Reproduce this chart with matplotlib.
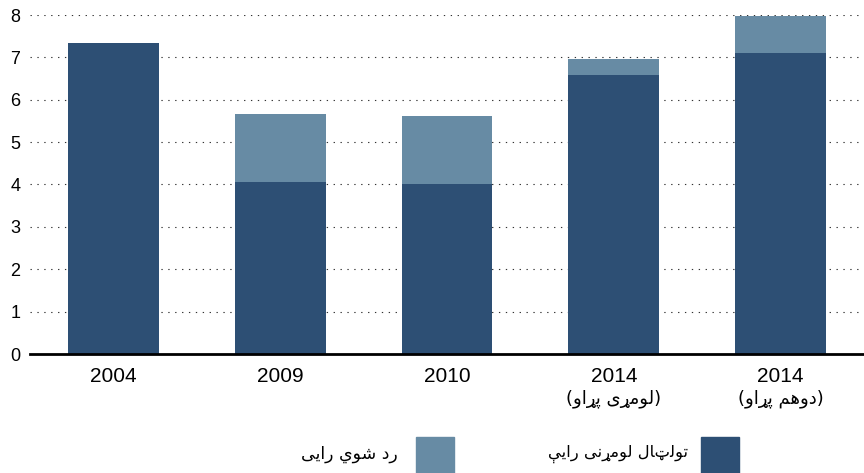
import matplotlib
matplotlib.use("Agg")
import matplotlib.pyplot as plt
from matplotlib.patches import Rectangle

# --- data (millions of votes) ---
years = ["2004", "2009", "2010", "2014", "2014"]
rounds = ["", "", "", "(لومړی پړاو)", "(دوهم پړاو)"]
valid_votes = [7.35, 4.06, 4.01, 6.59, 7.10]
rejected_votes = [0.0, 1.60, 1.61, 0.37, 0.88]
y_ticks = [0, 1, 2, 3, 4, 5, 6, 7, 8]
label_valid = "تولټال لومړنی رایې"
label_rejected = "رد شوي رایی"

DARK = "#2d4f74"
LIGHT = "#678ba4"

# --- minimal Arabic-script shaping (presentation forms + RTL ordering) ---
# forms: (isolated, final, initial, medial); right-joining letters have only 2
FORMS = {
    "ا": ("\uFE8D", "\uFE8E"),
    "د": ("\uFEA9", "\uFEAA"),
    "ر": ("\uFEAD", "\uFEAE"),
    "و": ("\uFEED", "\uFEEE"),
    "ړ": ("\u0693", "\u0693"),
    "ت": ("\uFE95", "\uFE96", "\uFE97", "\uFE98"),
    "ش": ("\uFEB5", "\uFEB6", "\uFEB7", "\uFEB8"),
    "ل": ("\uFEDD", "\uFEDE", "\uFEDF", "\uFEE0"),
    "م": ("\uFEE1", "\uFEE2", "\uFEE3", "\uFEE4"),
    "ن": ("\uFEE5", "\uFEE6", "\uFEE7", "\uFEE8"),
    "ه": ("\uFEE9", "\uFEEA", "\uFEEB", "\uFEEC"),
    "ي": ("\uFEF1", "\uFEF2", "\uFEF3", "\uFEF4"),
    "ی": ("\uFBFC", "\uFBFD", "\uFBFE", "\uFBFF"),
    "ې": ("\uFBE4", "\uFBE5", "\uFBE6", "\uFBE7"),
    "پ": ("\uFB56", "\uFB57", "\uFB58", "\uFB59"),
    "ټ": ("\u067C", "\u067C", "\u067C", "\u067C"),
}


def shape(text):
    out = []
    n = len(text)
    for i, ch in enumerate(text):
        f = FORMS.get(ch)
        if f is None:
            out.append(ch)
            continue
        prev = text[i - 1] if i > 0 else ""
        nxt = text[i + 1] if i < n - 1 else ""
        join_prev = prev in FORMS and len(FORMS[prev]) == 4
        join_next = len(f) == 4 and nxt in FORMS
        if join_prev and join_next:
            out.append(f[3])
        elif join_prev:
            out.append(f[1])
        elif join_next:
            out.append(f[2])
        else:
            out.append(f[0])
    vis = "".join(reversed(out))
    return vis.translate(str.maketrans("()", ")("))


plt.rcParams["font.family"] = ["Liberation Sans", "DejaVu Sans"]

fig = plt.figure(figsize=(8.64, 4.73), dpi=100)
ax = fig.add_axes([30 / 864, 1 - 354 / 473, 834 / 864, (354 - 15) / 473])

x = list(range(len(years)))
ax.bar(x, valid_votes, width=0.545, color=DARK, zorder=2)
ax.bar(x, rejected_votes, width=0.545, bottom=valid_votes, color=LIGHT, zorder=2)

ax.set_xlim(-0.5, len(years) - 0.5)
ax.set_ylim(0, 8)
ax.set_yticks(y_ticks)
ax.set_yticklabels([str(t) for t in y_ticks], fontsize=13)
ax.set_xticks(x)
ax.set_xticklabels(years, fontsize=15)
ax.tick_params(axis="both", length=0)
ax.tick_params(axis="y", pad=7)
ax.tick_params(axis="x", pad=9)

# round names under the 2014 labels
for i, r in enumerate(rounds):
    if r:
        ax.annotate(shape(r), xy=(i, 0), xycoords=("data", "axes fraction"),
                    xytext=(0, -45), textcoords="offset pixels",
                    ha="center", va="center", fontsize=13, family="DejaVu Sans")

for yt in y_ticks[1:]:
    ax.axhline(yt, color="#333333", lw=0.8, linestyle=(0, (1.2, 5)), zorder=1)

for s in ["top", "right", "left"]:
    ax.spines[s].set_visible(False)
ax.spines["bottom"].set_linewidth(2)
ax.spines["bottom"].set_zorder(3)

# legend (right-to-left layout: text to the left of each swatch)
fig.add_artist(Rectangle((416 / 864, 0), 38 / 864, 36 / 473,
                         transform=fig.transFigure, color=LIGHT))
fig.add_artist(Rectangle((701 / 864, 0), 38 / 864, 36 / 473,
                         transform=fig.transFigure, color=DARK))
fig.text(398 / 864, 1 - 454 / 473, shape(label_rejected), ha="right", va="center",
         fontsize=12.5, family="DejaVu Sans")
fig.text(688 / 864, 1 - 454 / 473, shape(label_valid), ha="right", va="center",
         fontsize=11.8, family="DejaVu Sans")

fig.savefig("out.png", dpi=100)
